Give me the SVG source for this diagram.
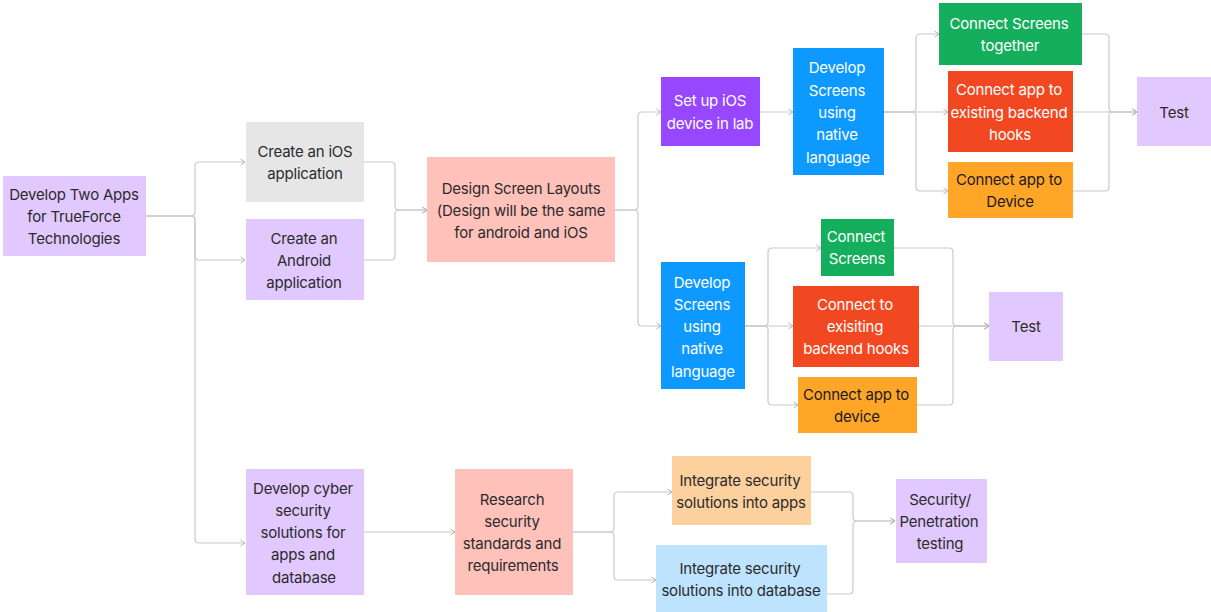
<svg xmlns="http://www.w3.org/2000/svg" width="1211" height="612" viewBox="0 0 1211 612">
<defs>
<marker id="arr" markerUnits="userSpaceOnUse" markerWidth="8" markerHeight="8" refX="6" refY="4" orient="auto">
<path d="M1.5,1 L6,4 L1.5,7" fill="none" stroke="#b5b5b5" stroke-width="1"/>
</marker>
</defs>
<style>
.c{fill:none;stroke:#c9c9c9;stroke-width:1.2;marker-end:url(#arr)}
text{font-family:Inter,"Noto Sans","Liberation Sans",sans-serif;font-size:15px;letter-spacing:-0.2px;text-anchor:middle;dominant-baseline:central;fill:#2b2b2b}
.w{fill:#ffffff}
.k{fill:#1a1a1a}
.lv{fill:#e1c9ff}
.gy{fill:#e6e6e6}
.sa{fill:#ffc2bb}
.vi{fill:#9747ff}
.bl{fill:#0d99ff}
.gr{fill:#14ae5c}
.rd{fill:#f24822}
.or{fill:#ffa629}
.lo{fill:#fcd19e}
.lb{fill:#bde3ff}
</style>
<rect width="1211" height="612" fill="#ffffff"/>
<g id="connectors">
<path class="c" d="M146,216 H191 Q195,216 195,212 V166 Q195,162 199,162 H245"/>
<path class="c" d="M146,216 H191 Q195,216 195,220 V256 Q195,260 199,260 H245"/>
<path class="c" d="M146,216 H191 Q195,216 195,220 V539 Q195,543 199,543 H245"/>
<path class="c" d="M364,162 H391 Q395,162 395,166 V206 Q395,210 399,210 H427"/>
<path class="c" d="M364,260 H391 Q395,260 395,256 V214 Q395,210 399,210 H427"/>
<path class="c" d="M615,210 H634 Q638,210 638,206 V116 Q638,112 642,112 H661"/>
<path class="c" d="M615,210 H634 Q638,210 638,214 V322 Q638,326 642,326 H661"/>
<path class="c" d="M760,112 H793"/>
<path class="c" d="M884,112 H912 Q916,112 916,108 V38 Q916,34 920,34 H939"/>
<path class="c" d="M884,112 H948"/>
<path class="c" d="M884,112 H912 Q916,112 916,116 V187 Q916,191 920,191 H948"/>
<path class="c" d="M1082,34 H1105 Q1109,34 1109,38 V108 Q1109,112 1113,112 H1137"/>
<path class="c" d="M1073,112 H1137"/>
<path class="c" d="M1073,191 H1105 Q1109,191 1109,187 V116 Q1109,112 1113,112 H1137"/>
<path class="c" d="M745,326 H764 Q768,326 768,322 V252 Q768,248 772,248 H821"/>
<path class="c" d="M745,326 H793"/>
<path class="c" d="M745,326 H764 Q768,326 768,330 V401 Q768,405 772,405 H798"/>
<path class="c" d="M894,248 H949 Q953,248 953,252 V322 Q953,326 957,326 H989"/>
<path class="c" d="M919,326 H989"/>
<path class="c" d="M917,405 H949 Q953,405 953,401 V330 Q953,326 957,326 H989"/>
<path class="c" d="M364,532 H455"/>
<path class="c" d="M573,532 H610 Q614,532 614,528 V496 Q614,492 618,492 H672"/>
<path class="c" d="M573,532 H610 Q614,532 614,536 V576 Q614,580 618,580 H656"/>
<path class="c" d="M811,492 H849 Q853,492 853,496 V517 Q853,521 857,521 H895"/>
<path class="c" d="M827,594 H849 Q853,594 853,590 V525 Q853,521 857,521 H895"/>
</g>
<g id="n-develop-two-apps"><rect class="lv" x="3" y="176" width="143" height="80"/>
<text x="74" y="194">Develop Two Apps</text><text x="74" y="216">for TrueForce</text><text x="74" y="238">Technologies</text></g>
<g id="n-create-ios"><rect class="gy" x="246" y="122" width="118" height="80"/>
<text x="305" y="151">Create an iOS</text><text x="305" y="173">application</text></g>
<g id="n-create-android"><rect class="lv" x="246" y="219" width="118" height="81"/>
<text x="304" y="238">Create an</text><text x="304" y="260">Android</text><text x="304" y="282">application</text></g>
<g id="n-design"><rect class="sa" x="427" y="157" width="188" height="105"/>
<text x="521" y="188">Design Screen Layouts</text><text x="521" y="210">(Design will be the same</text><text x="521" y="232">for android and iOS</text></g>
<g id="n-setup-ios"><rect class="vi" x="661" y="77" width="99" height="69"/>
<text class="w" x="710" y="100">Set up iOS</text><text class="w" x="710" y="123">device in lab</text></g>
<g id="n-dev-screens-ios"><rect class="bl" x="793" y="48" width="91" height="127"/>
<text class="w" x="837" y="67">Develop</text><text class="w" x="837" y="90">Screens</text><text class="w" x="837" y="112">using</text><text class="w" x="837" y="134">native</text><text class="w" x="838" y="157">language</text></g>
<g id="n-connect-screens-together"><rect class="gr" x="939" y="3" width="143" height="62"/>
<text class="w" x="1009" y="23">Connect Screens</text><text class="w" x="1010" y="45">together</text></g>
<g id="n-connect-existing"><rect class="rd" x="948" y="71" width="125" height="81"/>
<text class="w" x="1009" y="89">Connect app to</text><text class="w" x="1009" y="112">existing backend</text><text class="w" x="1010" y="134">hooks</text></g>
<g id="n-connect-device-ios"><rect class="or" x="948" y="162" width="125" height="56"/>
<text class="k" x="1009" y="179">Connect app to</text><text class="k" x="1010" y="201">Device</text></g>
<g id="n-test-ios"><rect class="lv" x="1137" y="77" width="74" height="69"/>
<text x="1174" y="112">Test</text></g>
<g id="n-dev-screens-android"><rect class="bl" x="661" y="262" width="84" height="127"/>
<text class="w" x="702" y="282">Develop</text><text class="w" x="702" y="304">Screens</text><text class="w" x="702" y="326">using</text><text class="w" x="702" y="348">native</text><text class="w" x="703" y="371">language</text></g>
<g id="n-connect-screens"><rect class="gr" x="821" y="219" width="73" height="57"/>
<text class="w" x="856" y="236">Connect</text><text class="w" x="857" y="258">Screens</text></g>
<g id="n-connect-exisiting"><rect class="rd" x="793" y="286" width="126" height="81"/>
<text class="w" x="855" y="304">Connect to</text><text class="w" x="855" y="326">exisiting</text><text class="w" x="856" y="348">backend hooks</text></g>
<g id="n-connect-device-android"><rect class="or" x="798" y="377" width="119" height="56"/>
<text class="k" x="856" y="394">Connect app to</text><text class="k" x="857" y="416">device</text></g>
<g id="n-test-android"><rect class="lv" x="989" y="292" width="74" height="69"/>
<text x="1026" y="326">Test</text></g>
<g id="n-cyber"><rect class="lv" x="246" y="469" width="118" height="126"/>
<text x="303" y="488">Develop cyber</text><text x="303" y="510">security</text><text x="303" y="532">solutions for</text><text x="303" y="554">apps and</text><text x="304" y="577">database</text></g>
<g id="n-research"><rect class="sa" x="455" y="469" width="118" height="126"/>
<text x="512" y="499">Research</text><text x="512" y="521">security</text><text x="512" y="543">standards and</text><text x="513" y="565">requirements</text></g>
<g id="n-integrate-apps"><rect class="lo" x="672" y="456" width="139" height="69"/>
<text x="740" y="480">Integrate security</text><text x="741" y="502">solutions into apps</text></g>
<g id="n-integrate-db"><rect class="lb" x="656" y="545" width="171" height="70"/>
<text x="740" y="568">Integrate security</text><text x="741" y="590">solutions into database</text></g>
<g id="n-pen-testing"><rect class="lv" x="896" y="479" width="91" height="84"/>
<text x="940" y="499">Security/</text><text x="939" y="521">Penetration</text><text x="940" y="543">testing</text></g>
</svg>
